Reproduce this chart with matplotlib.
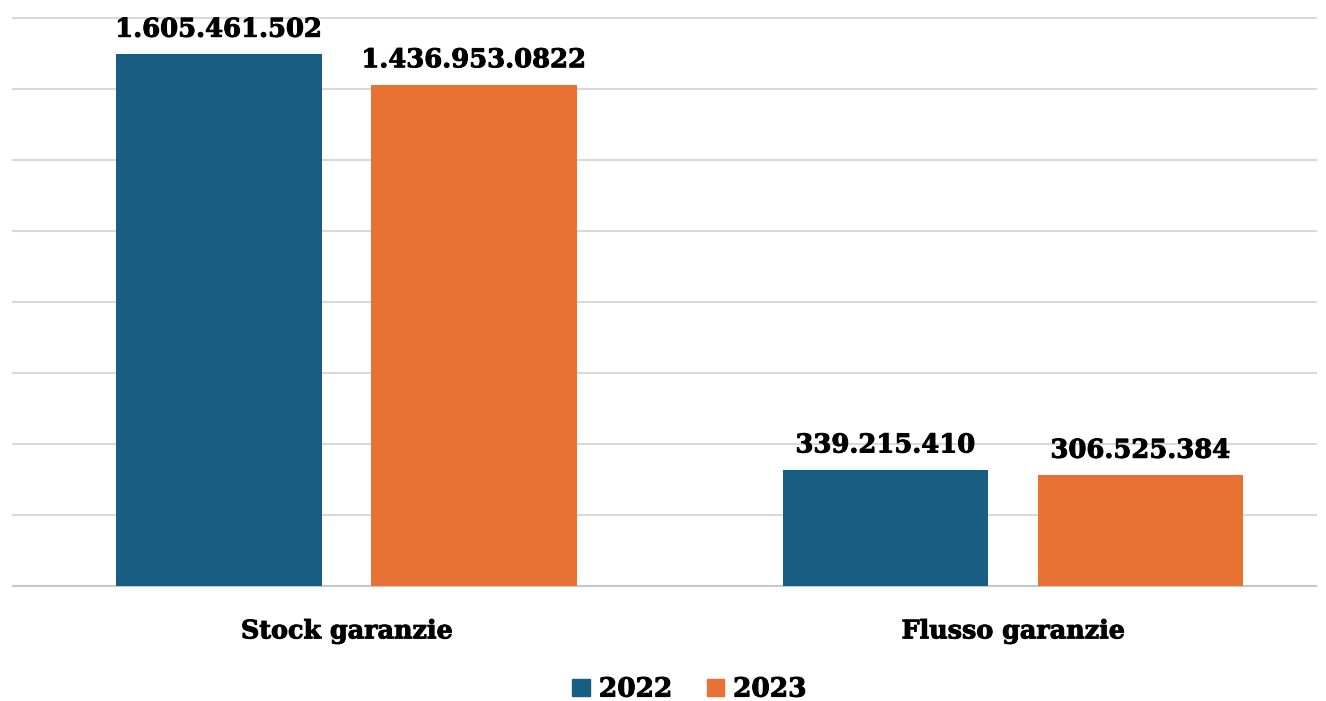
import matplotlib.pyplot as plt
import matplotlib.patheffects as pe
from matplotlib.patches import Patch

# data
categories = ["Stock garanzie", "Flusso garanzie"]
series_names = ["2022", "2023"]
values_2022 = [1498000000, 327000000]
values_2023 = [1412000000, 312000000]
labels_2022 = ["1.605.461.502", "339.215.410"]
labels_2023 = ["1.436.953.0822", "306.525.384"]

blue = "#175E82"
orange = "#E87234"
font = "DejaVu Serif"
heavy = [pe.withStroke(linewidth=0.7, foreground="black")]


def plot_chart():
    fig = plt.figure(figsize=(13.26, 7.01), dpi=100)
    ax = fig.add_axes([13 / 1326, 1 - 586 / 701, 1303 / 1326, 568 / 701])

    width = 0.309
    offset = 0.1913
    x = list(range(len(categories)))
    bars1 = ax.bar([i - offset for i in x], values_2022, width, color=blue, zorder=3)
    bars2 = ax.bar([i + offset for i in x], values_2023, width, color=orange, zorder=3)

    for bars, labels in [(bars1, labels_2022), (bars2, labels_2023)]:
        for b, lab in zip(bars, labels):
            ax.annotate(lab, (b.get_x() + b.get_width() / 2, b.get_height()),
                        xytext=(0, 9), textcoords="offset points",
                        ha="center", va="bottom", fontsize=18.6,
                        fontweight="bold", family=font, color="black",
                        path_effects=heavy)

    ax.set_xlim(-0.5004, 1.4546)
    ax.set_ylim(0, 1600000000)
    ax.set_yticks([i * 200000000 for i in range(9)])
    ax.yaxis.grid(True, color="#d9d9d9", linewidth=1.5, zorder=0)
    for gl in ax.get_ygridlines():
        gl.set_clip_on(False)
    ax.set_yticklabels([])
    ax.tick_params(axis="both", length=0)
    ax.set_xticks(x)
    ax.set_xticklabels(categories, fontsize=18.3, fontweight="bold", family=font)
    for t in ax.get_xticklabels():
        t.set_path_effects(heavy)
    ax.tick_params(axis="x", pad=24)
    for s in ["top", "right", "left"]:
        ax.spines[s].set_visible(False)
    ax.spines["bottom"].set_color("#c8c8c8")
    ax.spines["bottom"].set_linewidth(1.5)

    handles = [Patch(color=blue), Patch(color=orange)]
    leg = fig.legend(handles, series_names, loc="center", bbox_to_anchor=(0.52, 0.017),
                     ncol=2, frameon=False, handlelength=0.65, handleheight=0.65,
                     handletextpad=0.35, columnspacing=1.3,
                     prop={"family": font, "weight": "bold", "size": 19})
    for t in leg.get_texts():
        t.set_path_effects(heavy)

    fig.savefig("out.png", dpi=100)


if __name__ == "__main__":
    plot_chart()
